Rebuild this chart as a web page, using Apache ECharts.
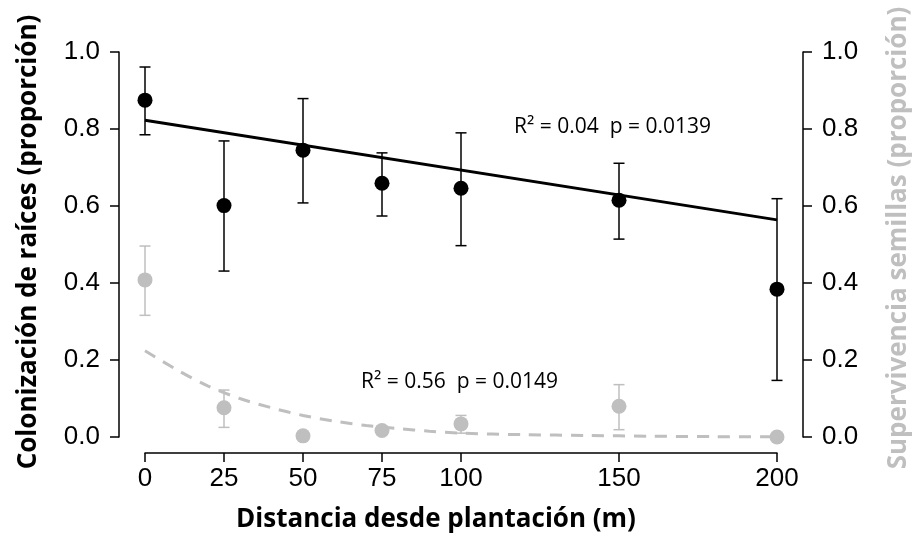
<!DOCTYPE html>
<html>
<head>
<meta charset="utf-8">
<script src="https://cdn.jsdelivr.net/npm/echarts@6/dist/echarts.min.js"></script>
<style>
  html, body { margin: 0; padding: 0; background: #fff; }
  #chart { width: 917px; height: 538px; }
</style>
</head>
<body>
<div id="chart"></div>
<script>
// distancia (m)
var xTicks = [0, 25, 50, 75, 100, 150, 200];
var distances = [0, 25, 50, 75, 100, 150, 200];

// colonización de raíces (negro)
var colMean = [0.875, 0.601, 0.745, 0.659, 0.646, 0.615, 0.384];
var colLow  = [0.785, 0.431, 0.608, 0.574, 0.497, 0.514, 0.147];
var colHigh = [0.961, 0.769, 0.879, 0.738, 0.790, 0.711, 0.619];

// supervivencia semillas (gris)
var survMean = [0.408, 0.076, 0.003, 0.017, 0.034, 0.080, 0.0];
var survLow  = [0.316, 0.025, null, null, 0.010, 0.019, null];
var survHigh = [0.496, 0.122, null, null, 0.056, 0.136, null];

// ajustes
var colFitX = [0, 200];
var colFitY = [0.823, 0.564];
var survFitX = [0, 10, 20, 30, 40, 50, 60, 70, 80, 90, 100, 120, 140, 160, 180, 200];
var survFitY = [0.224, 0.175, 0.132, 0.100, 0.076, 0.056, 0.041, 0.030, 0.022, 0.015, 0.010, 0.006, 0.004, 0.002, 0.001, 0.0005];

var BLACK = '#000000';
var GRAY = '#bfbfbf';

function pairs(xs, ys) {
  return xs.map(function (x, i) { return [x, ys[i]]; });
}
function errData(xs, lo, hi) {
  var out = [];
  xs.forEach(function (x, i) {
    if (lo[i] != null && hi[i] != null) out.push([x, lo[i], hi[i]]);
  });
  return out;
}
function errorBars(color, width) {
  return function (params, api) {
    var x = api.value(0);
    var top = api.coord([x, api.value(2)]);
    var bot = api.coord([x, api.value(1)]);
    var w = 5.5;
    var st = { stroke: color, lineWidth: width };
    return {
      type: 'group',
      children: [
        { type: 'line', shape: { x1: top[0], y1: top[1], x2: bot[0], y2: bot[1] }, style: st },
        { type: 'line', shape: { x1: top[0] - w, y1: top[1], x2: top[0] + w, y2: top[1] }, style: st },
        { type: 'line', shape: { x1: bot[0] - w, y1: bot[1], x2: bot[0] + w, y2: bot[1] }, style: st }
      ]
    };
  };
}

var tickFont = { fontFamily: 'Liberation Sans', fontSize: 26, color: '#000' };
var titleFont = 'bold 26px "Open Sans"';
var noteFont = '21px "Open Sans"';

var yAxisBase = {
  type: 'value',
  min: 0,
  max: 1,
  interval: 0.2,
  offset: 26,
  splitLine: { show: false },
  axisLine: { show: true, onZero: false, lineStyle: { color: '#000', width: 1.5 } },
  axisTick: { show: true, length: 9, lineStyle: { color: '#000', width: 1.5 } },
  axisLabel: Object.assign({ margin: 19, formatter: function (v) { return v.toFixed(1); } }, tickFont)
};

var chart = echarts.init(document.getElementById('chart'));
chart.setOption({
  animation: false,
  backgroundColor: '#fff',
  grid: { left: 145, right: 140, top: 52, bottom: 101, containLabel: false },
  xAxis: {
    type: 'value',
    min: 0,
    max: 200,
    offset: 16,
    splitLine: { show: false },
    axisLine: { show: true, onZero: false, lineStyle: { color: '#000', width: 1.5 } },
    axisTick: { show: true, length: 9, customValues: xTicks, lineStyle: { color: '#000', width: 1.5 } },
    axisLabel: Object.assign({ margin: 13, customValues: xTicks }, tickFont)
  },
  yAxis: [
    Object.assign({}, yAxisBase, { position: 'left' }),
    Object.assign({}, yAxisBase, { position: 'right' })
  ],
  graphic: [
    {
      type: 'text', x: 29, y: 242, rotation: Math.PI / 2,
      style: { text: 'Colonización de raíces (proporción)', fill: '#000', font: titleFont, textAlign: 'center', textVerticalAlign: 'middle' }
    },
    {
      type: 'text', x: 899, y: 238, rotation: Math.PI / 2,
      style: { text: 'Supervivencia semillas (proporción)', fill: GRAY, font: titleFont, textAlign: 'center', textVerticalAlign: 'middle' }
    },
    {
      type: 'text', x: 436, y: 520,
      style: { text: 'Distancia desde plantación (m)', fill: '#000', font: titleFont, textAlign: 'center', textVerticalAlign: 'middle' }
    },
    {
      type: 'text', x: 514, y: 127,
      style: { text: 'R² = 0.04  p = 0.0139', fill: '#000', font: noteFont, textAlign: 'left', textVerticalAlign: 'middle' }
    },
    {
      type: 'text', x: 361, y: 382,
      style: { text: 'R² = 0.56  p = 0.0149', fill: '#000', font: noteFont, textAlign: 'left', textVerticalAlign: 'middle' }
    }
  ],
  series: [
    {
      type: 'line', yAxisIndex: 1, data: pairs(survFitX, survFitY), smooth: 0.3,
      showSymbol: false, clip: false,
      lineStyle: { color: GRAY, width: 3, type: [12, 9] }, z: 1
    },
    {
      type: 'custom', yAxisIndex: 1, data: errData(distances, survLow, survHigh),
      renderItem: errorBars(GRAY, 1.5), encode: { x: 0, y: [1, 2] }, clip: false, z: 2
    },
    {
      type: 'scatter', yAxisIndex: 1, data: pairs(distances, survMean),
      symbol: 'circle', symbolSize: 15, itemStyle: { color: GRAY, opacity: 1 }, clip: false, z: 3
    },
    {
      type: 'line', yAxisIndex: 0, data: pairs(colFitX, colFitY),
      showSymbol: false, clip: false,
      lineStyle: { color: BLACK, width: 3 }, z: 4
    },
    {
      type: 'custom', yAxisIndex: 0, data: errData(distances, colLow, colHigh),
      renderItem: errorBars(BLACK, 1.5), encode: { x: 0, y: [1, 2] }, clip: false, z: 5
    },
    {
      type: 'scatter', yAxisIndex: 0, data: pairs(distances, colMean),
      symbol: 'circle', symbolSize: 15, itemStyle: { color: BLACK, opacity: 1 }, clip: false, z: 6
    }
  ]
});
</script>
</body>
</html>
